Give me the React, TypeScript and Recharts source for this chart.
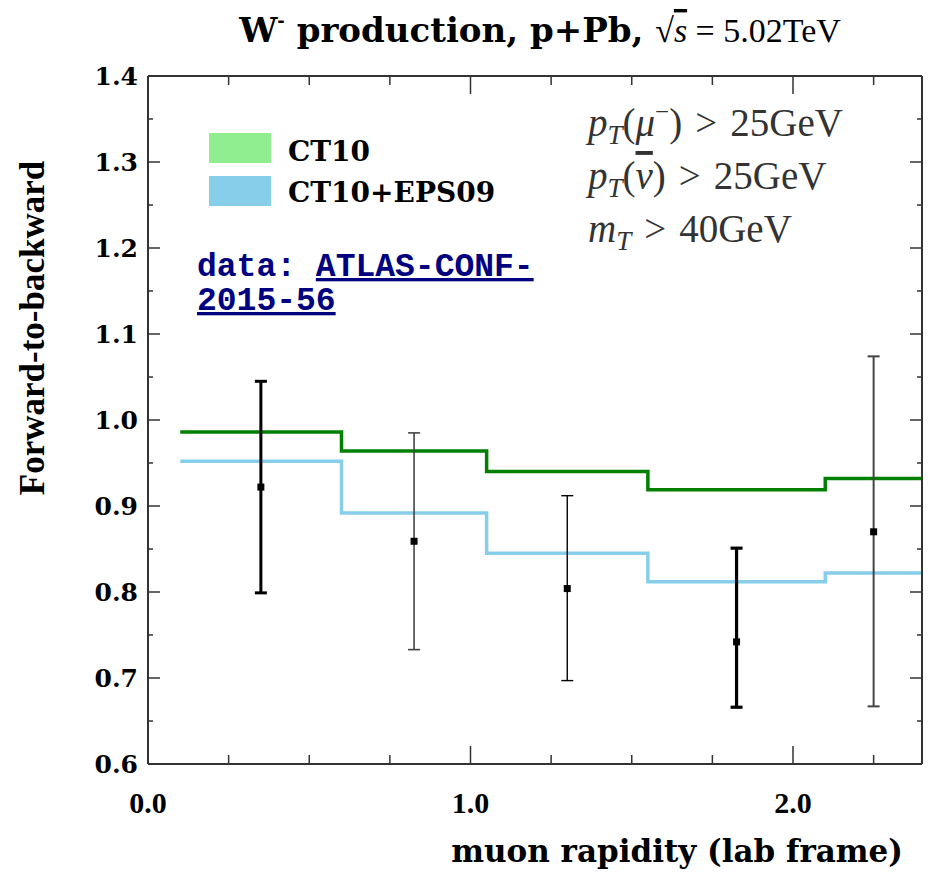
import React from 'react';
import { ComposedChart, Line, Scatter, ErrorBar, XAxis, YAxis } from 'recharts';

// ---- data ----
const binEdges = [0.1, 0.6, 1.05, 1.55, 2.1, 2.4];
const ct10 = [0.986, 0.964, 0.94, 0.919, 0.932, 0.932];
const ct10eps09 = [0.952, 0.892, 0.845, 0.812, 0.822, 0.822];

const dataX = [0.35, 0.825, 1.3, 1.825, 2.25];
const dataY = [0.922, 0.859, 0.804, 0.742, 0.87];
const dataLow = [0.799, 0.733, 0.697, 0.666, 0.667];
const dataHigh = [1.045, 0.985, 0.912, 0.851, 1.074];
const barWidths = [3, 1.6, 1.4, 3.2, 2];
const barColors = ['#000', '#444', '#000', '#000', '#444'];

const xTicks = [0, 0.25, 0.5, 0.75, 1, 1.25, 1.5, 1.75, 2, 2.25];
const xMajor = [0, 1, 2];
const xMajorLabels = ['0.0', '1.0', '2.0'];
const yTicks = [0.6, 0.65, 0.7, 0.75, 0.8, 0.85, 0.9, 0.95, 1.0, 1.05, 1.1, 1.15, 1.2, 1.25, 1.3, 1.35, 1.4];

const table = binEdges.map((x, i) => ({ x, ct10: ct10[i], eps: ct10eps09[i] }));
const points = dataX.map((x, i) => ({
  x,
  y: dataY[i],
  err: [dataY[i] - dataLow[i], dataHigh[i] - dataY[i]],
}));

const FRAME = '#333';
const isYMajor = (v: number) => Math.abs(v * 10 - Math.round(v * 10)) < 1e-6;
const xMajorIdx = (v: number) => xMajor.findIndex((m) => Math.abs(m - v) < 1e-6);

const BottomTick = (props: any) => {
  const { x, y, payload } = props;
  const idx = xMajorIdx(payload.value);
  const len = idx >= 0 ? 18 : 9;
  return (
    <g>
      <line x1={x} y1={y} x2={x} y2={y - len} stroke={FRAME} strokeWidth={1.5} />
      {idx >= 0 && (
        <text x={x} y={y + 49} textAnchor="middle" fontFamily="Liberation Serif" fontWeight="bold" fontSize={30} fill="#000">
          {xMajorLabels[idx]}
        </text>
      )}
    </g>
  );
};

const TopTick = (props: any) => {
  const { x, y, payload } = props;
  const idx = xMajorIdx(payload.value);
  const len = idx >= 0 ? 18 : 9;
  return <line x1={x} y1={y} x2={x} y2={y + len} stroke={FRAME} strokeWidth={1.5} />;
};

const LeftTick = (props: any) => {
  const { x, y, payload } = props;
  const major = isYMajor(payload.value);
  const len = major ? 12 : 5;
  return (
    <g>
      <line x1={x} y1={y} x2={x + len} y2={y} stroke={FRAME} strokeWidth={1.5} />
      {major && (
        <text x={x - 10} y={y + 9} textAnchor="end" fontFamily="DejaVu Serif" fontWeight="bold" fontSize={25} fill="#000">
          {payload.value.toFixed(1)}
        </text>
      )}
    </g>
  );
};

const RightTick = (props: any) => {
  const { x, y, payload } = props;
  const len = isYMajor(payload.value) ? 12 : 5;
  return <line x1={x} y1={y} x2={x - len} y2={y} stroke={FRAME} strokeWidth={1.5} />;
};

const Square = (props: any) => {
  const { cx, cy } = props;
  return <rect x={cx - 3.5} y={cy - 3.5} width={7} height={7} fill="#000" />;
};

const mathFont = 'Liberation Serif';

export default function App() {
  return (
    <div style={{ position: 'relative', width: 930, height: 875, background: '#fff' }}>
      <style>{`body{margin:0;}`}</style>
      <ComposedChart
        width={930}
        height={875}
        data={table}
        margin={{ top: 46, right: 0, bottom: 0, left: 0 }}
      >
        <XAxis
          dataKey="x"
          type="number"
          domain={[0, 2.4]}
          ticks={xTicks}
          allowDataOverflow
          height={111}
          tickSize={0}
          tickMargin={0}
          axisLine={{ stroke: FRAME, strokeWidth: 2 }}
          tick={<BottomTick />}
          interval={0}
        />
        <XAxis
          xAxisId="top"
          orientation="top"
          dataKey="x"
          type="number"
          domain={[0, 2.4]}
          ticks={xTicks}
          allowDataOverflow
          height={30}
          tickSize={0}
          tickMargin={0}
          axisLine={{ stroke: FRAME, strokeWidth: 2 }}
          tick={<TopTick />}
          interval={0}
        />
        <YAxis
          type="number"
          domain={[0.6, 1.4]}
          ticks={yTicks}
          allowDataOverflow
          width={148}
          tickSize={0}
          tickMargin={0}
          axisLine={{ stroke: FRAME, strokeWidth: 2 }}
          tick={<LeftTick />}
          interval={0}
        />
        <YAxis
          yAxisId="right"
          orientation="right"
          type="number"
          domain={[0.6, 1.4]}
          ticks={yTicks}
          allowDataOverflow
          width={8}
          tickSize={0}
          tickMargin={0}
          axisLine={{ stroke: FRAME, strokeWidth: 2 }}
          tick={<RightTick />}
          interval={0}
        />
        <Line dataKey="ct10" type="stepAfter" stroke="#008000" strokeWidth={3.5} dot={false} isAnimationActive={false} />
        <Line dataKey="eps" type="stepAfter" stroke="#87CEEB" strokeWidth={3.5} dot={false} isAnimationActive={false} />
        {points.map((p, i) => (
          <Scatter key={i} data={[p]} dataKey="y" shape={<Square />} isAnimationActive={false}>
            <ErrorBar dataKey="err" direction="y" width={6} stroke={barColors[i]} strokeWidth={barWidths[i]} isAnimationActive={false} />
          </Scatter>
        ))}
      </ComposedChart>
      <svg width={930} height={875} style={{ position: 'absolute', left: 0, top: 0, pointerEvents: 'none' }}>
        {/* title */}
        <text x={540} y={42} textAnchor="middle" fill="#000">
          <tspan fontFamily="DejaVu Serif" fontWeight="bold" fontSize={34}>W</tspan>
          <tspan fontFamily="DejaVu Serif" fontWeight="bold" fontSize={18} dy={-15}>-</tspan>
          <tspan fontFamily="DejaVu Serif" fontWeight="bold" fontSize={34} dy={15}> production, p+Pb, </tspan>
          <tspan fontFamily={mathFont} fontSize={34}>√</tspan>
          <tspan fontFamily={mathFont} fontSize={34} fontStyle="italic" style={{ textDecoration: 'overline' }}>s</tspan>
          <tspan fontFamily={mathFont} fontSize={34}> = 5.02TeV</tspan>
        </text>
        {/* legend */}
        <rect x={209} y={133} width={62} height={30} fill="#90EE90" />
        <rect x={209} y={176} width={62} height={30} fill="#87CEEB" />
        <text x={288} y={161} fontFamily="DejaVu Serif" fontWeight="bold" fontSize={28} fill="#000">CT10</text>
        <text x={288} y={202} fontFamily="DejaVu Serif" fontWeight="bold" fontSize={28} fill="#000">CT10+EPS09</text>
        {/* data link */}
        <text x={197} y={276} fontFamily="Liberation Mono" fontWeight="bold" fontSize={33} fill="#000080">
          <tspan>data: </tspan>
          <tspan style={{ textDecoration: 'underline' }}>ATLAS-CONF-</tspan>
        </text>
        <text x={197} y={310} fontFamily="Liberation Mono" fontWeight="bold" fontSize={33} fill="#000080" style={{ textDecoration: 'underline' }}>
          2015-56
        </text>
        {/* cuts */}
        <g fontFamily={mathFont} fontSize={39} fill="#333">
          <text x={588} y={136}>
            <tspan fontStyle="italic">p</tspan>
            <tspan fontStyle="italic" fontSize={27} dy={8}>T</tspan>
            <tspan dy={-8}>(</tspan>
            <tspan fontStyle="italic">μ</tspan>
            <tspan fontSize={25} dy={-16}>−</tspan>
            <tspan dy={16}>)</tspan>
            <tspan dx={13}>&gt;</tspan>
            <tspan dx={13}>25GeV</tspan>
          </text>
          <text x={588} y={189}>
            <tspan fontStyle="italic">p</tspan>
            <tspan fontStyle="italic" fontSize={27} dy={8}>T</tspan>
            <tspan dy={-8}>(</tspan>
            <tspan fontStyle="italic" style={{ textDecoration: 'overline' }}>ν</tspan>
            <tspan>)</tspan>
            <tspan dx={13}>&gt;</tspan>
            <tspan dx={13}>25GeV</tspan>
          </text>
          <text x={588} y={242}>
            <tspan fontStyle="italic">m</tspan>
            <tspan fontStyle="italic" fontSize={27} dy={8}>T</tspan>
            <tspan dy={-8} dx={13}>&gt;</tspan>
            <tspan dx={13}>40GeV</tspan>
          </text>
        </g>
        {/* axis labels */}
        <text
          x={32}
          y={328}
          transform="rotate(-90 32 328)"
          textAnchor="middle"
          dominantBaseline="central"
          fontFamily="Liberation Serif"
          fontWeight="bold"
          fontSize={35}
          fill="#000"
        >
          Forward-to-backward
        </text>
        <text x={903} y={862} textAnchor="end" fontFamily="DejaVu Serif" fontWeight="bold" fontSize={31} fill="#000">
          muon rapidity (lab frame)
        </text>
      </svg>
    </div>
  );
}
